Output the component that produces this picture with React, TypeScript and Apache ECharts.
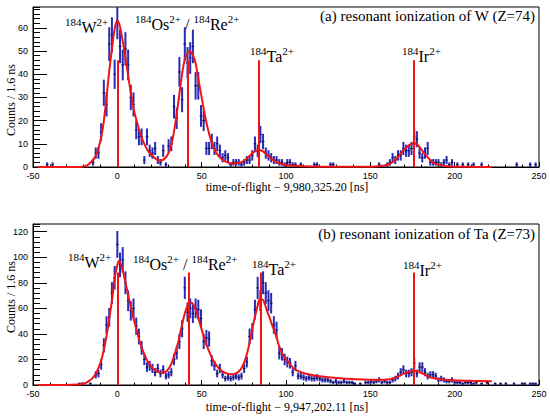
import React, { useEffect, useRef } from "react";
import * as echarts from "echarts";

const SERIF = "'Liberation Serif', 'DejaVu Serif', serif";
const SANS = "'Liberation Sans', 'DejaVu Sans', sans-serif";
const BLUE = "#2a2ab8";
const RED = "#f01414";
const HALF_BIN = 0.8;

// ---------- panel (a): resonant ionization of W ----------
const topX = [-41.6, -38.4, -14.4, -12.8, -11.2, -9.6, -8.0, -6.4, -4.8, -3.2, -1.6, 0, 1.6, 3.2, 4.8, 6.4, 8.0, 9.6, 11.2, 12.8, 14.4, 16.0, 17.6, 19.2, 20.8, 22.4, 24.0, 25.6, 27.2, 28.8, 30.4, 32.0, 33.6, 35.2, 36.8, 38.4, 40.0, 41.6, 43.2, 44.8, 46.4, 48.0, 49.6, 51.2, 52.8, 54.4, 56.0, 57.6, 59.2, 60.8, 62.4, 64.0, 65.6, 67.2, 68.8, 70.4, 72.0, 73.6, 75.2, 76.8, 78.4, 80.0, 81.6, 83.2, 84.8, 86.4, 88.0, 89.6, 91.2, 92.8, 94.4, 96.0, 97.6, 99.2, 100.8, 102.4, 104.0, 105.6, 108.8, 116.8, 118.4, 126.4, 128.0, 155.2, 160.0, 161.6, 163.2, 164.8, 166.4, 168.0, 169.6, 171.2, 172.8, 174.4, 176.0, 177.6, 179.2, 180.8, 182.4, 184.0, 185.6, 187.2, 188.8, 190.4, 192.0, 193.6, 195.2, 196.8, 198.4, 201.6, 204.8, 208.0, 211.2, 216.0, 236.8, 244.8, 248.0];
const topCounts = [1, 1, 2, 6, 6, 15, 32, 27, 53, 57, 40, 63, 52, 44, 51, 44, 30, 27, 16, 13, 13, 3, 13, 7, 6, 8, 3, 2, 7, 1, 9, 10, 26, 21, 41, 29, 53, 45, 47, 52, 35, 35, 22, 20, 8, 8, 11, 8, 10, 7, 4, 5, 4, 1, 2, 2, 2, 1, 2, 3, 3, 5, 10, 7, 14, 11, 6, 5, 4, 3, 3, 2, 2, 1, 2, 2, 1, 1, 1, 1, 1, 1, 1, 1, 1, 2, 4, 3, 5, 5, 8, 7, 7, 8, 13, 12, 6, 4, 6, 8, 2, 2, 2, 2, 1, 2, 3, 1, 2, 1, 1, 1, 1, 1, 1, 1, 1];

const topFitX = [-47, -30, -22, -19, -17, -15, -13, -11, -9, -7, -5, -3, -1.5, 0, 1, 2, 3.5, 5, 6.5, 8, 10, 12, 14, 16, 18, 20, 22, 24, 26, 28, 30, 32, 34, 36, 38, 40, 42, 43, 44, 46, 48, 50, 52, 54, 56, 58, 60, 62, 64, 66, 68, 70, 72, 74, 76, 78, 80, 82, 84, 86, 88, 90, 92, 94, 96, 100, 105, 110, 120, 140, 150, 155, 160, 163, 166, 169, 172, 174, 176, 178, 180, 182, 185, 188, 192, 196, 200, 210, 222];
const topFitY = [0, 0, 0, 0.4, 1.2, 2.6, 4.5, 8.5, 15, 26, 40, 52, 60, 63, 62, 59, 53, 46, 39, 32, 24, 18.5, 13.5, 10, 7.2, 5.3, 4, 3, 2.8, 3.6, 5.5, 9.5, 17, 27, 38, 46.5, 49.5, 49.8, 49.3, 46, 38, 30, 22, 15.5, 10.5, 7, 4.8, 3.3, 2.4, 1.8, 1.5, 1.5, 1.7, 2.2, 3.2, 4.5, 5.9, 6.9, 7.3, 6.9, 5.8, 4.4, 3.2, 2.3, 1.6, 0.9, 0.5, 0.3, 0.15, 0.1, 0.15, 0.3, 1, 2, 4, 6.7, 8.8, 9.8, 10.2, 9.6, 7.8, 5.9, 3.4, 1.6, 0.7, 0.3, 0.15, 0.05, 0.02];

const topMarkerX = [0, 41.8, 84.0, 175.5];
const topMarkerHeight = 46;

// ---------- panel (b): resonant ionization of Ta ----------
const botX = [-22.4, -20.8, -16.0, -12.8, -11.2, -9.6, -8.0, -6.4, -4.8, -3.2, -1.6, 0, 1.6, 3.2, 4.8, 6.4, 8.0, 9.6, 11.2, 12.8, 14.4, 16.0, 17.6, 19.2, 20.8, 22.4, 24.0, 25.6, 27.2, 28.8, 30.4, 32.0, 33.6, 35.2, 36.8, 38.4, 40.0, 41.6, 43.2, 44.8, 46.4, 48.0, 49.6, 51.2, 52.8, 54.4, 56.0, 57.6, 59.2, 60.8, 62.4, 64.0, 65.6, 67.2, 68.8, 70.4, 72.0, 73.6, 75.2, 76.8, 78.4, 80.0, 81.6, 83.2, 84.8, 86.4, 88.0, 89.6, 91.2, 92.8, 94.4, 96.0, 97.6, 99.2, 100.8, 102.4, 104.0, 105.6, 107.2, 108.8, 110.4, 112.0, 113.6, 115.2, 116.8, 118.4, 120.0, 121.6, 123.2, 124.8, 126.4, 128.0, 129.6, 131.2, 132.8, 134.4, 136.0, 137.6, 139.2, 140.8, 144.0, 147.2, 148.8, 150.4, 152.0, 153.6, 155.2, 156.8, 158.4, 160.0, 161.6, 163.2, 164.8, 166.4, 168.0, 169.6, 171.2, 172.8, 174.4, 176.0, 177.6, 179.2, 180.8, 182.4, 184.0, 185.6, 187.2, 188.8, 190.4, 192.0, 193.6, 195.2, 196.8, 198.4, 200.0, 201.6, 203.2, 204.8, 206.4, 208.0, 209.6, 211.2, 212.8, 216.0, 219.2, 224.0, 227.2, 230.4, 235.2, 240.0, 241.6, 244.8, 246.4, 248.0];
const botCounts = [1, 1, 1, 8, 9, 16, 31, 47, 53, 72, 84, 110, 94, 98, 80, 66, 58, 60, 46, 38, 29, 20, 14, 15, 13, 10, 13, 9, 12, 7, 8, 10, 20, 25, 34, 44, 76, 57, 60, 56, 60, 59, 52, 34, 37, 36, 19, 15, 9, 13, 8, 5, 6, 5, 6, 7, 6, 7, 13, 18, 38, 42, 59, 76, 66, 80, 72, 66, 64, 47, 43, 25, 24, 20, 18, 17, 10, 15, 7, 7, 6, 5, 6, 5, 5, 6, 5, 4, 4, 4, 3, 2, 3, 2, 2, 3, 2, 2, 2, 1, 1, 2, 2, 3, 2, 3, 4, 2, 3, 2, 2, 4, 5, 7, 10, 12, 9, 9, 10, 17, 9, 14, 14, 10, 7, 8, 8, 7, 4, 5, 4, 3, 3, 4, 2, 2, 2, 1, 2, 2, 2, 1, 2, 1, 2, 1, 1, 1, 1, 1, 1, 1, 1, 1];

const botFitX = [-47, -30, -24, -21, -19, -17, -15, -13, -11, -9, -7, -5, -3, -1.5, 0, 1, 2, 3.5, 5, 6.5, 8, 10, 12, 14, 16, 18, 20, 22, 24, 26, 28, 30, 32, 34, 36, 38, 40, 42, 43.5, 45, 47, 49, 51, 53, 55, 57, 59, 61, 63, 65, 67, 69, 71, 73, 75, 77, 79, 81, 83, 84.5, 86, 87.5, 89, 90.5, 92, 94, 96, 98, 100, 102, 105, 108, 112, 116, 120, 130, 140, 150, 158, 162, 165, 168, 171, 174, 176, 178, 181, 184, 187, 191, 196, 202, 210, 222];
const botFitY = [0, 0, 0.3, 0.8, 1.5, 3, 5, 8.5, 14, 22, 34, 50, 68, 84, 94, 97, 95, 88, 79, 70, 61, 50, 40, 31, 24, 18.5, 14.5, 12, 10.5, 9.7, 10, 12, 16.5, 24, 33, 45, 56, 63, 64.5, 63, 57, 48, 39, 31, 24.5, 19, 15, 12, 10, 9, 8.5, 8.5, 9.5, 12, 17, 25, 37, 50, 61, 67, 67, 63, 57, 52, 46, 39, 30, 24, 20, 17, 12.5, 10.5, 8.8, 7.6, 6.8, 5.5, 4.6, 4.2, 4.2, 4.6, 5.8, 7.8, 9.5, 10.8, 11.2, 10.8, 9, 7, 5.5, 4.6, 4, 3.6, 3.3, 3];

const botMarkerX = [0.4, 42.6, 85.3, 176.0];
const botMarkerHeight = 88;

// ---------- texts ----------
const titleA = "(a) resonant ionization of W (Z=74)";
const titleB = "(b) resonant ionization of Ta (Z=73)";
const xTitleA = "time-of-flight \u2212 9,980,325.20 [ns]";
const xTitleB = "time-of-flight \u2212 9,947,202.11 [ns]";
const yTitle = "Counts / 1.6 ns";
const ionLabels = [
  "{s|184}{b|W}{s|2+}",
  "{s|184}{b|Os}{s|2+}{b| / }{s|184}{b|Re}{s|2+}",
  "{s|184}{b|Ta}{s|2+}",
  "{s|184}{b|Ir}{s|2+}",
];

const rich = {
  b: { fontFamily: SERIF, fontSize: 16, color: "#000", verticalAlign: "middle" },
  s: { fontFamily: SERIF, fontSize: 11, color: "#000", verticalAlign: "middle", padding: [0, 0, 11, 0] },
};

function errorBarItem(params: any, api: any) {
  const x = api.value(0);
  const y = api.value(1);
  const e = Math.sqrt(y);
  const p1 = api.coord([x, y - e]);
  const p2 = api.coord([x, y + e]);
  const h1 = api.coord([x - HALF_BIN, y]);
  const h2 = api.coord([x + HALF_BIN, y]);
  return {
    type: "group",
    children: [
      { type: "line", shape: { x1: p1[0], y1: p1[1], x2: p2[0], y2: p2[1] }, style: { stroke: BLUE, lineWidth: 2 } },
      { type: "line", shape: { x1: h1[0], y1: h1[1], x2: h2[0], y2: h2[1] }, style: { stroke: "#101040", lineWidth: 1 } },
    ],
  };
}

function xAxisFor(gridIndex: number) {
  return {
    type: "value",
    gridIndex,
    min: -50,
    max: 250,
    interval: 50,
    axisLine: { show: true, onZero: false, lineStyle: { color: "#000", width: 1 } },
    axisTick: { show: true, inside: true, length: 5, lineStyle: { color: "#000", width: 1 } },
    minorTick: { show: true, splitNumber: 5, length: 2.5, lineStyle: { color: "#000", width: 1 } },
    axisLabel: { color: "#000", fontFamily: SANS, fontSize: 9, margin: 4 },
    splitLine: { show: false },
    minorSplitLine: { show: false },
  };
}

function yMajor(gridIndex: number, max: number, interval: number) {
  return {
    type: "value",
    gridIndex,
    position: "left",
    min: 0,
    max,
    interval,
    axisLine: { show: true, onZero: false, lineStyle: { color: "#000", width: 1 } },
    axisTick: { show: true, inside: true, length: 14, lineStyle: { color: "#000", width: 1 } },
    axisLabel: { color: "#000", fontFamily: SANS, fontSize: 9, margin: 5, showMaxLabel: false },
    splitLine: { show: false },
  };
}

function yMinor(gridIndex: number, max: number, interval: number) {
  return {
    type: "value",
    gridIndex,
    position: "left",
    min: 0,
    max,
    interval,
    axisLine: { show: false, onZero: false },
    axisTick: { show: true, inside: true, length: 7, lineStyle: { color: "#000", width: 1 } },
    axisLabel: { show: false },
    splitLine: { show: false },
  };
}

function markerLines(xs: number[], h: number) {
  return {
    silent: true,
    symbol: ["none", "none"],
    label: { show: false },
    lineStyle: { color: RED, width: 2, type: "solid" },
    data: xs.map((x) => [{ coord: [x, 0] }, { coord: [x, h] }]),
  };
}

function ionText(i: number, x: number, y: number) {
  return { type: "text", x, y, style: { text: ionLabels[i], rich, align: "left", verticalAlign: "middle" } };
}

function plainText(text: string, x: number, y: number, size: number, align: string, rotation = 0) {
  return {
    type: "text",
    x,
    y,
    rotation,
    style: { text, fontFamily: SERIF, fontSize: size, fill: "#000", align, verticalAlign: "middle" },
  };
}

export default function App() {
  const ref = useRef<HTMLDivElement>(null);
  useEffect(() => {
    if (!ref.current) return;
    const chart = echarts.init(ref.current, undefined, { renderer: "svg" });
    const topPts = topX.map((x, i) => [x, topCounts[i]]);
    const botPts = botX.map((x, i) => [x, botCounts[i]]);
    const topFit = topFitX.map((x, i) => [x, topFitY[i]]);
    const botFit = botFitX.map((x, i) => [x, botFitY[i]]);
    chart.setOption({
      animation: false,
      backgroundColor: "#fff",
      textStyle: { fontFamily: SERIF },
      grid: [
        { left: 33, top: 7, width: 506, height: 160, show: true, borderColor: "#000", borderWidth: 1, backgroundColor: "transparent" },
        { left: 33, top: 224, width: 506, height: 161, show: true, borderColor: "#000", borderWidth: 1, backgroundColor: "transparent" },
      ],
      xAxis: [xAxisFor(0), xAxisFor(1)],
      yAxis: [yMajor(0, 69, 10), yMinor(0, 69, 2), yMajor(1, 126, 20), yMinor(1, 126, 4)],
      series: [
        { type: "custom", xAxisIndex: 0, yAxisIndex: 0, data: topPts, renderItem: errorBarItem, clip: true, z: 2 },
        {
          type: "line", xAxisIndex: 0, yAxisIndex: 0, data: topFit, smooth: 0.4, symbol: "none",
          lineStyle: { color: RED, width: 2 }, z: 3, markLine: markerLines(topMarkerX, topMarkerHeight),
        },
        { type: "custom", xAxisIndex: 1, yAxisIndex: 2, data: botPts, renderItem: errorBarItem, clip: true, z: 2 },
        {
          type: "line", xAxisIndex: 1, yAxisIndex: 2, data: botFit, smooth: 0.4, symbol: "none",
          lineStyle: { color: RED, width: 2 }, z: 3, markLine: markerLines(botMarkerX, botMarkerHeight),
        },
      ],
      graphic: [
        plainText(titleA, 535, 16, 15, "right"),
        plainText(titleB, 535, 233.5, 15, "right"),
        plainText(xTitleA, 287, 187, 12, "center"),
        plainText(xTitleB, 287, 407, 12, "center"),
        plainText(yTitle, 10.5, 100, 12, "center", Math.PI / 2),
        plainText(yTitle, 10.5, 297, 12, "center", Math.PI / 2),
        ionText(0, 65, 27.6),
        ionText(1, 135, 24),
        ionText(2, 250, 56.5),
        ionText(3, 402, 56.5),
        ionText(0, 68, 262.8),
        ionText(1, 133, 264.5),
        ionText(2, 252, 269.5),
        ionText(3, 403, 270.5),
      ],
    });
    return () => chart.dispose();
  }, []);
  return <div ref={ref} style={{ position: "absolute", left: 0, top: 0, width: 550, height: 417 }} />;
}
